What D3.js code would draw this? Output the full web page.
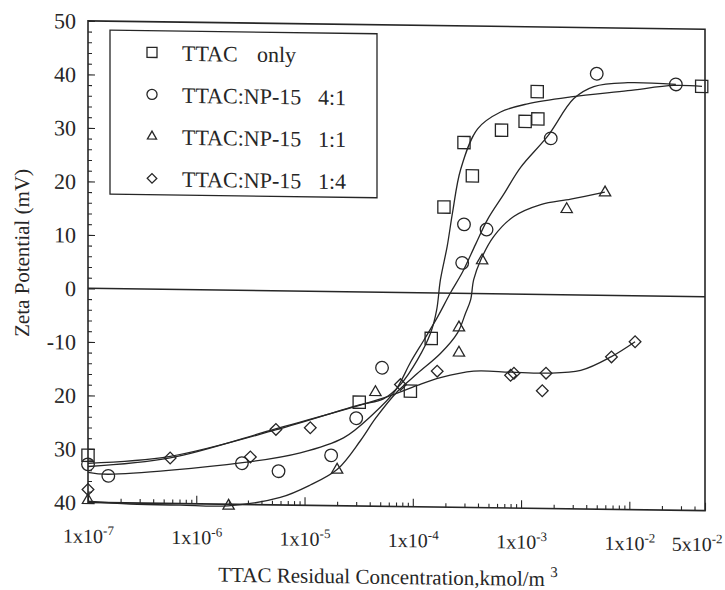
<!DOCTYPE html>
<html>
<head>
<meta charset="utf-8">
<script src="https://cdn.jsdelivr.net/npm/d3@7"></script>
<style>
  body { margin: 0; background: #fff; }
  text { font-family: "Liberation Serif", "Times New Roman", serif; fill: #262626; }
</style>
</head>
<body>
<svg id="chart"></svg>
<script>
// measured points, [concentration kmol/m3, zeta mV]
const ttacOnly = [[1e-7, -31.2], [3.2e-5, -20.6], [9.5e-5, -18.4], [1.48e-4, -8.5], [1.94e-4, 16.1],
  [2.97e-4, 28.2], [3.55e-4, 22.0], [6.6e-4, 30.6], [1.09e-3, 32.3], [1.41e-3, 37.9], [1.43e-3, 32.8], [4.66e-2, 39.3]];
const ratio41 = [[1e-7, -32.9], [1.54e-7, -35.0], [2.64e-6, -32.3], [5.75e-6, -33.7], [1.76e-5, -30.6],
  [3.0e-5, -23.6], [5.2e-5, -14.1], [2.86e-4, 5.7], [2.97e-4, 12.9], [4.8e-4, 12.0], [1.88e-3, 29.2],
  [5.0e-3, 41.4], [2.69e-2, 39.6]];
const ratio11 = [[1e-7, -39.6], [1.99e-6, -40.3], [2.0e-5, -33.3], [4.52e-5, -18.7], [2.67e-4, -11.1],
  [2.67e-4, -6.4], [4.37e-4, 6.2], [2.64e-3, 16.0], [5.97e-3, 19.2]];
const ratio14 = [[1e-7, -37.6], [5.74e-7, -31.5], [3.16e-6, -31.1], [5.44e-6, -25.9], [1.13e-5, -25.5],
  [7.69e-5, -17.2], [1.68e-4, -14.6], [8.0e-4, -15.2], [8.6e-4, -14.8], [1.70e-3, -14.7], [1.57e-3, -18.0],
  [6.84e-3, -11.5], [1.13e-2, -8.6]];

// hand drawn fit curves
const ttacOnlyFit = [[1e-7, -32.7], [5.74e-7, -31.2], [5.4e-6, -26.0], [3.21e-5, -21.1], [5.36e-5, -19.9],
  [7.69e-5, -17.2], [1.10e-4, -12.6], [1.46e-4, -7.5], [1.66e-4, -3.2], [1.80e-4, 2.5], [2.08e-4, 8.8],
  [2.33e-4, 15.1], [2.77e-4, 23.2], [3.97e-4, 30.8], [6.47e-4, 34.0], [1.15e-3, 35.6], [2.88e-3, 37.0],
  [9.68e-3, 38.3], [2.58e-2, 39.4], [4.69e-2, 39.3]];
const ratio41Fit = [[1e-7, -34.4], [1.53e-7, -34.7], [2.67e-6, -32.2], [9.14e-6, -30.2], [2.29e-5, -27.3],
  [4.24e-5, -22.9], [6.92e-5, -18.3], [9.53e-5, -13.0], [1.26e-4, -8.9], [1.69e-4, -4.5], [2.23e-4, 0.1],
  [2.88e-4, 4.0], [3.80e-4, 9.2], [4.91e-4, 13.9], [6.90e-4, 18.6], [9.91e-4, 23.7], [1.76e-3, 29.6],
  [3.07e-3, 36.7], [4.70e-3, 39.0], [9.68e-3, 39.8], [2.69e-2, 39.6]];
const ratio11Fit = [[1e-7, -39.8], [2.45e-7, -40.2], [7.10e-7, -40.3], [1.97e-6, -40.3], [5.97e-6, -38.6],
  [1.13e-5, -36.2], [2.01e-5, -33.2], [3.28e-5, -27.8], [4.52e-5, -23.6], [7.21e-5, -18.5], [1.10e-4, -15.1],
  [1.80e-4, -11.3], [2.59e-4, -7.4], [3.07e-4, -3.7], [3.42e-4, -1.2], [3.65e-4, 2.6], [4.24e-4, 6.3],
  [5.58e-4, 10.7], [8.55e-4, 14.5], [1.52e-3, 16.8], [2.88e-3, 17.9], [5.94e-3, 19.3]];
const ratio14Fit = [[1e-7, -33.3], [5.74e-7, -31.5], [5.40e-6, -25.8], [3.21e-5, -21.2], [6.21e-5, -19.3],
  [1.10e-4, -17.3], [1.80e-4, -15.8], [3.65e-4, -14.5], [8.02e-4, -14.6], [1.69e-3, -14.7], [3.56e-3, -14.1],
  [6.76e-3, -11.5], [1.13e-2, -8.6]];

const legendMain = ['TTAC', 'TTAC:NP-15', 'TTAC:NP-15', 'TTAC:NP-15'];
const legendTail = ['only', '4:1', '1:1', '1:4'];

const xTickValues = [1e-7, 1e-6, 1e-5, 1e-4, 1e-3, 1e-2, 5e-2];
const xTickBases = ['1x10', '1x10', '1x10', '1x10', '1x10', '1x10', '5x10'];
const xTickExps = ['-7', '-6', '-5', '-4', '-3', '-2', '-2'];
const yTickValues = [50, 40, 30, 20, 10, 0, -10, -20, -30, -40];
const yTickLabels = ['50', '40', '30', '20', '10', '0', '-10', '20', '30', '40'];

let width = 725;
let height = 590;
let plot = { left: 88, right: 705, top: 25, bottom: 506.5 };
let ink = '#262626';

let svg = d3.select('#chart')
  .attr('width', width)
  .attr('height', height);

// the scanned page is slightly sheared, right side sits lower
let shear = 0.0135;
let g = svg.append('g')
  .attr('transform', `translate(0,${-396 * shear}) skewY(${Math.atan(shear) * 180 / Math.PI})`);

let x = d3.scaleLog()
  .domain([1e-7, 5e-2])
  .range([plot.left, plot.right]);

let y = d3.scaleLinear()
  .domain([-40, 50])
  .range([plot.bottom, plot.top]);

// minor ticks first
g.append('g')
  .attr('transform', `translate(${plot.left},0)`)
  .call(d3.axisLeft(y).tickValues(d3.range(-40, 51, 2).filter(d => d % 10 !== 0)).tickSize(-4).tickFormat(''))
  .call(a => a.select('.domain').remove());

g.append('g')
  .attr('transform', `translate(0,${plot.bottom})`)
  .call(d3.axisBottom(x).tickValues(x.ticks().filter(d => !xTickValues.includes(d))).tickSize(-4).tickFormat(''))
  .call(a => a.select('.domain').remove());

let yAxis = g.append('g')
  .attr('transform', `translate(${plot.left},0)`)
  .call(d3.axisLeft(y).tickValues(yTickValues).tickSize(-7).tickPadding(12).tickFormat((d, i) => yTickLabels[i]))
  .call(a => a.select('.domain').remove());

yAxis.selectAll('text')
  .attr('font-size', 22)
  .attr('dy', '0.34em');

let xAxis = g.append('g')
  .attr('transform', `translate(0,${plot.bottom})`)
  .call(d3.axisBottom(x).tickValues(xTickValues).tickSize(-8).tickFormat(''))
  .call(a => a.select('.domain').remove());

xAxis.selectAll('.tick text').each(function(d, i) {
  let t = d3.select(this)
    .attr('y', 40.5)
    .attr('dy', null)
    .attr('font-size', 20);
  // last label sits at the page edge, keep it inside
  if (i === xTickValues.length - 1) t.attr('text-anchor', 'end').attr('x', 17);
  t.append('tspan').text(xTickBases[i]);
  t.append('tspan').attr('dy', -8).attr('font-size', 13).text(xTickExps[i]);
});

g.selectAll('.tick line').attr('stroke', ink).attr('stroke-width', 1.1);
g.selectAll('.tick text').attr('fill', ink).attr('font-family', '"Liberation Serif", serif');

// frame and zero line
g.append('rect')
  .attr('x', plot.left)
  .attr('y', plot.top)
  .attr('width', plot.right - plot.left)
  .attr('height', plot.bottom - plot.top)
  .attr('fill', 'none')
  .attr('stroke', ink)
  .attr('stroke-width', 1.6);

g.append('line')
  .attr('x1', plot.left)
  .attr('x2', plot.right)
  .attr('y1', y(0))
  .attr('y2', y(0))
  .attr('stroke', ink)
  .attr('stroke-width', 1.5);

// fit curves
let line = d3.line()
  .x(d => x(d[0]))
  .y(d => y(d[1]))
  .curve(d3.curveCatmullRom.alpha(0.5));

[ttacOnlyFit, ratio41Fit, ratio11Fit, ratio14Fit].forEach(fit => {
  g.append('path')
    .attr('d', line(fit))
    .attr('fill', 'none')
    .attr('stroke', ink)
    .attr('stroke-width', 1.3);
});

// markers
let shapes = [
  { data: ttacOnly, type: d3.symbolSquare, size: 150, legendSize: 100, rot: 0 },
  { data: ratio41, type: d3.symbolCircle, size: 125, legendSize: 80, rot: 0 },
  { data: ratio11, type: d3.symbolTriangle, size: 55, legendSize: 36, rot: 0 },
  { data: ratio14, type: d3.symbolSquare, size: 68, legendSize: 46, rot: 45 }
];

shapes.forEach(s => {
  g.append('g')
    .selectAll('path')
    .data(s.data)
    .enter()
    .append('path')
      .attr('d', d3.symbol().type(s.type).size(s.size))
      .attr('transform', d => `translate(${x(d[0])},${y(d[1])}) rotate(${s.rot})`)
      .attr('fill', 'none')
      .attr('stroke', ink)
      .attr('stroke-width', 1.3);
});

// legend
let legend = g.append('g');

legend.append('rect')
  .attr('x', 110)
  .attr('y', 34)
  .attr('width', 267)
  .attr('height', 164)
  .attr('fill', 'white')
  .attr('stroke', ink)
  .attr('stroke-width', 1.3);

shapes.forEach((s, i) => {
  let base = 63.7 + i * 42;
  legend.append('path')
    .attr('d', d3.symbol().type(s.type).size(s.legendSize))
    .attr('transform', `translate(152,${base - 8}) rotate(${s.rot})`)
    .attr('fill', 'none')
    .attr('stroke', ink)
    .attr('stroke-width', 1.3);
  let t = legend.append('text')
    .attr('x', 182)
    .attr('y', base)
    .attr('font-size', 22);
  t.append('tspan').text(legendMain[i]);
  t.append('tspan').attr('x', i === 0 ? 257 : 318).text(legendTail[i]);
});

// axis titles
g.append('text')
  .attr('transform', 'translate(22,258) rotate(-90)')
  .attr('text-anchor', 'middle')
  .attr('dy', '0.35em')
  .attr('font-size', 21)
  .text('Zeta Potential (mV)');

let xTitle = g.append('text')
  .attr('x', 388)
  .attr('y', 584)
  .attr('text-anchor', 'middle')
  .attr('font-size', 21);
xTitle.append('tspan').text('TTAC Residual Concentration,kmol/m ');
xTitle.append('tspan').attr('dy', -9).attr('font-size', 15).text('3');
</script>
</body>
</html>
